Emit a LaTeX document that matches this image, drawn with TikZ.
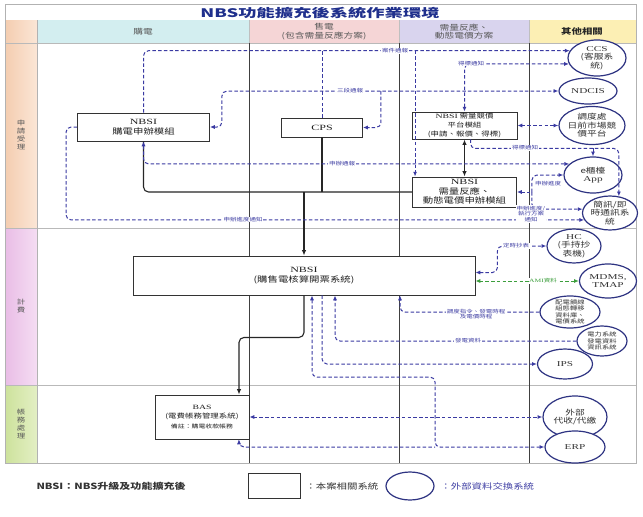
\documentclass[tikz,border=0pt]{standalone}
\usepackage{fontspec}
\setmainfont[FakeStretch=1.3]{Noto Sans CJK TC}
\newfontfamily\lat[FakeStretch=1.5]{Liberation Serif}
\newfontfamily\ttl[FakeStretch=1.55]{Noto Sans CJK TC}
\usetikzlibrary{shapes.geometric,arrows.meta,calc}
\definecolor{linkc}{HTML}{3A3AA2}
\definecolor{ringc}{HTML}{2E3382}
\definecolor{lblc}{HTML}{4040A4}
\definecolor{amic}{HTML}{3C9E3C}
\definecolor{titlec}{HTML}{1F2F8C}
\definecolor{hdrbuy}{HTML}{D3EEF0}
\definecolor{hdrsell}{HTML}{F5D5D6}
\definecolor{hdrdr}{HTML}{D9D4EE}
\definecolor{hdroth}{HTML}{FCEFB4}
\definecolor{rowa}{HTML}{F4CDB0}
\definecolor{rowal}{HTML}{FBE6D6}
\definecolor{rowb}{HTML}{E9BDE6}
\definecolor{rowbl}{HTML}{F5DDF3}
\definecolor{rowc}{HTML}{CDE29C}
\definecolor{rowcl}{HTML}{E3EFC4}
\begin{document}
\begin{tikzpicture}[x=1pt,y=-1pt,
  sysbox/.style={draw=black!80,line width=0.9pt,fill=white,align=center,inner sep=1pt,
    font=\fontsize{8}{10.5}\selectfont,text=black!88},
  extsys/.style={ellipse,draw=ringc,line width=1.2pt,fill=white,align=center,inner xsep=-2pt,inner ysep=-2pt,
    font=\fontsize{7.5}{8.5}\selectfont,text=black!80},
  dl/.style={draw=linkc,line width=1pt,dash pattern=on 3.5pt off 2.2pt,rounded corners=5pt,
    >={Latex[length=4.8pt,width=4pt]}},
  aml/.style={draw=amic,line width=1pt,dash pattern=on 3.5pt off 2.2pt,
    >={Latex[length=4.8pt,width=4pt]}},
  sl/.style={draw=black!85,line width=1.1pt,rounded corners=5pt,>={Latex[length=5.5pt,width=4.5pt]}},
  lbl/.style={fill=white,inner sep=0.6pt,font=\fontsize{5}{5.6}\selectfont,text=lblc,align=center},
  hdr/.style={font=\fontsize{7.5}{8.6}\selectfont,text=black!65,align=center},
  rowlbl/.style={font=\fontsize{6.5}{8}\selectfont,text=black!65,align=center},
]
\useasboundingbox (0,0) rectangle (643,517);
\fill[white] (0,0) rectangle (643,517);

% ---- frame, header and swimlanes ----
\draw[gray!60,line width=0.8pt,fill=white] (5,4) rectangle (636,20);
\node[font=\ttl\bfseries\fontsize{11.8}{12}\selectfont,text=titlec] (title) at (320,12.8) {NBS功能擴充後系統作業環境};

\shade[left color=rowa,right color=rowal] (5,20) rectangle (37,43);
\fill[hdrbuy] (37,20) rectangle (249,43);
\fill[hdrsell] (249,20) rectangle (399,43);
\fill[hdrdr] (399,20) rectangle (529,43);
\fill[hdroth] (529,20) rectangle (636,43);

\shade[left color=rowa,right color=rowal] (5,43) rectangle (37,228);
\shade[left color=rowb,right color=rowbl] (5,228) rectangle (37,385);
\shade[left color=rowc,right color=rowcl] (5,385) rectangle (37,463);

\draw[gray!55,line width=0.6pt] (5,43) -- (636,43) (5,228) -- (636,228) (5,385) -- (636,385);
\draw[gray!60,line width=0.6pt] (37,20) -- (37,463);
\draw[gray!50,line width=0.6pt] (249,20) -- (249,43) (399,20) -- (399,43) (529,20) -- (529,43);
\draw[black!75,line width=0.9pt] (249,43) -- (249,463) (399,43) -- (399,463) (529,43) -- (529,463);
\draw[gray!60,line width=1pt] (5,4) rectangle (636,463);

\node[hdr] (hbuy) at (143,31.5) {購電};
\node[hdr] (hsell) at (324,31.5) {售電\\(包含需量反應方案)};
\node[hdr] (hdr2) at (464,31.5) {需量反應、\\動態電價方案};
\node[hdr,font=\bfseries\fontsize{8}{9}\selectfont,text=black!85] (hoth) at (582,31.5) {其他相關};

\node[rowlbl] (r1) at (21,135) {申\\請\\受\\理};
\node[rowlbl] (r2) at (21,306) {計\\費};
\node[rowlbl] (r3) at (21,424) {帳\\務\\處\\理};

% ---- systems of this project ----
\node[sysbox,minimum width=132,minimum height=28] (buy) at (143.5,127) {{\lat NBSI}\\購電申辦模組};
\node[sysbox,minimum width=81,minimum height=19] (cps) at (322,127.5) {{\lat CPS}};
\node[sysbox,minimum width=105,minimum height=27,font=\fontsize{6.5}{9}\selectfont] (bid) at (464.5,125.5)
  {{\lat NBSI} 需量競價\\平台模組\\(申請、報價、得標)};
\node[sysbox,minimum width=104,minimum height=30,font=\fontsize{8}{9.6}\selectfont] (dr) at (464.5,192)
  {{\lat NBSI}\\需量反應、\\動態電價申辦模組};
\node[sysbox,minimum width=342,minimum height=39] (core) at (304,275.5) {{\lat NBSI}\\(購售電核算開票系統)};
\node[sysbox,minimum width=94,minimum height=44,font=\fontsize{6.5}{9.5}\selectfont] (bas) at (202,417)
  {{\lat BAS}\\(電費帳務管理系統)\\{\fontsize{5.3}{6.3}\selectfont 備註：購電收款帳務}};

% ---- external data exchange systems ----
\node[extsys,minimum width=58,minimum height=36] (ccs) at (597,58) {{\lat CCS}\\(客服系\\統)};
\node[extsys,minimum width=58,minimum height=26] (ndcis) at (588,91) {{\lat NDCIS}};
\node[extsys,minimum width=66,minimum height=38] (tpc) at (592,125.5) {調度處\\日前市場競\\價平台};
\node[extsys,minimum width=58,minimum height=36] (app) at (593,175) {e櫃檯\\{\lat App}};
\node[extsys,minimum width=55,minimum height=34] (sms) at (610,213) {簡訊/即\\時通訊系\\統};
\node[extsys,minimum width=54,minimum height=34] (hc) at (574,246) {{\lat HC}\\(手持抄\\表機)};
\node[extsys,minimum width=57,minimum height=34] (mdms) at (608,281) {{\lat MDMS,}\\{\lat TMAP}};
\node[extsys,minimum width=60,minimum height=32,font=\fontsize{5.6}{6.3}\selectfont] (feed) at (570,312)
  {配電饋線\\組態轉移\\資料庫、\\電價系統};
\node[extsys,minimum width=50,minimum height=30,font=\fontsize{5.6}{6.3}\selectfont] (pwr) at (602,341)
  {電力系統\\發電資料\\資訊系統};
\node[extsys,minimum width=55,minimum height=30] (ips) at (565,364) {{\lat IPS}};
\node[extsys,minimum width=64,minimum height=42] (ext) at (575,417) {外部\\代收/代繳};
\node[extsys,minimum width=60,minimum height=32] (erp) at (575,447) {{\lat ERP}};

% ---- solid data flows ----
\draw[sl] (buy.south) |- (dr.west);
\draw[sl] (cps.south) -- (cps.south |- dr.west);
\draw[sl,->] (core.north |- dr.west) -- (core.north);
\draw[sl,<->] (bid.south) -- (dr.north);
\coordinate (basT) at ($(bas.north)+(37,0)$);
\draw[sl,->] (core.south) -- ++(0,42) -| (basT);

% ---- application layer exchanges ----
\draw[dl,->] (buy.north) |- (ccs.165);
\draw[dl] (cps.north) -- (cps.north |- ccs.165);
\coordinate (drTopIn) at ($(dr.north west)+(3,0)$);
\draw[dl,->] (drTopIn |- ccs.165) -- (drTopIn);
\node[lbl] (tCase) at (395,51) {案件通報};

\draw[dl,<->] (bid.north) |- (ccs.192);
\node[lbl] (tWin1) at (471,63.5) {得標通知};

\draw[dl,<->] (buy.east) -- ++(12,0) |- (ndcis.west);
\coordinate (cpsR) at ($(cps.east)+(18,0)$);
\draw[dl,->] (cpsR |- ndcis.west) -- (cpsR) -- (cps.east);
\node[lbl] (tThree) at (350,91) {三段通報};

\draw[dl,<->] (bid.east) -- (tpc.west);

\coordinate (bidS) at ($(bid.south)+(6,0)$);
\coordinate (winBus) at ($(bidS)+(0,9)$);
\draw[dl,->] (bidS) -- (winBus) -| (sms.62);
\draw[dl,->] (app.north |- winBus) -- (app.north);
\node[lbl] (tWin2) at (525,148) {得標通知};

\draw[dl,<->] (buy.south) |- (app.155);
\node[lbl] (tApply) at (342,164) {申辦通報};

\draw[dl,->] (buy.west) -- ++(-11,0) |- (sms.195);
\node[lbl] (tProg) at (243,219.5) {申辦進度通知};

\coordinate (drR) at ($(dr.east)+(15,0)$);
\draw[dl,<-] (dr.east) -- (drR);
\draw[dl,->] (drR) |- (app.west);
\draw[dl,->] (drR) |- (sms.172);
\node[lbl] (tProg2) at (548,184) {申辦進度};
\node[lbl] (tProg3) at (531,214) {申辦進度/\\執行方案\\通知};

% ---- billing layer exchanges ----
\coordinate (coreE1) at ($(core.east)+(0,-3)$);
\coordinate (coreE2) at ($(core.east)+(0,5.5)$);
\draw[dl,<->] (coreE1) -- ++(22,0) |- (hc.west);
\node[lbl] (tRead) at (516,246) {定時抄表};
\draw[aml,<->] (coreE2) -- (mdms.west);
\node[lbl,text=amic] (tAmi) at (543,281) {{\lat AMI}資料};

\coordinate (coreB1) at ($(core.south)+(8,0)$);
\coordinate (coreB2) at ($(core.south)+(18,0)$);
\coordinate (coreB3) at ($(core.south)+(31,0)$);
\coordinate (coreB4) at ($(core.south)+(96,0)$);
\draw[dl,->] (feed.west) -| (coreB4);
\node[lbl] (tDisp) at (476,314) {調度指令、發電時程\\及電價時程};
\draw[dl,->] (pwr.west) -| (coreB3);
\node[lbl] (tGen) at (468,341) {發電資料};
\draw[dl,->] (coreB2) |- (ips.west);

% ---- accounting layer exchanges ----
\coordinate (erpDrop) at (435,377);
\draw[dl,<->] (coreB1) |- (erpDrop) |- (erp.west);
\coordinate (basB) at ($(bas.south)+(37,0)$);
\draw[dl,<-] (basB) |- (erpDrop |- erp.west);
\draw[dl,<->] (bas.east) -- (bas.east -| ext.west);

% ---- legend ----
\node[anchor=west,font=\bfseries\fontsize{8.5}{9}\selectfont,text=black!80] (lgA) at (33,486) {NBSI：NBS升級及功能擴充後};
\node[draw=black!80,line width=0.9pt,minimum width=52,minimum height=25] (lgBox) at (274,485.5) {};
\node[anchor=west,font=\fontsize{8}{9}\selectfont,text=black!80] (lgB) at (302,486) {：本案相關系統};
\node[extsys,minimum width=48,minimum height=28] (lgEll) at (410,486) {};
\node[anchor=west,font=\fontsize{8}{9}\selectfont,text=lblc] (lgC) at (437,486) {：外部資料交換系統};
\end{tikzpicture}
\end{document}
